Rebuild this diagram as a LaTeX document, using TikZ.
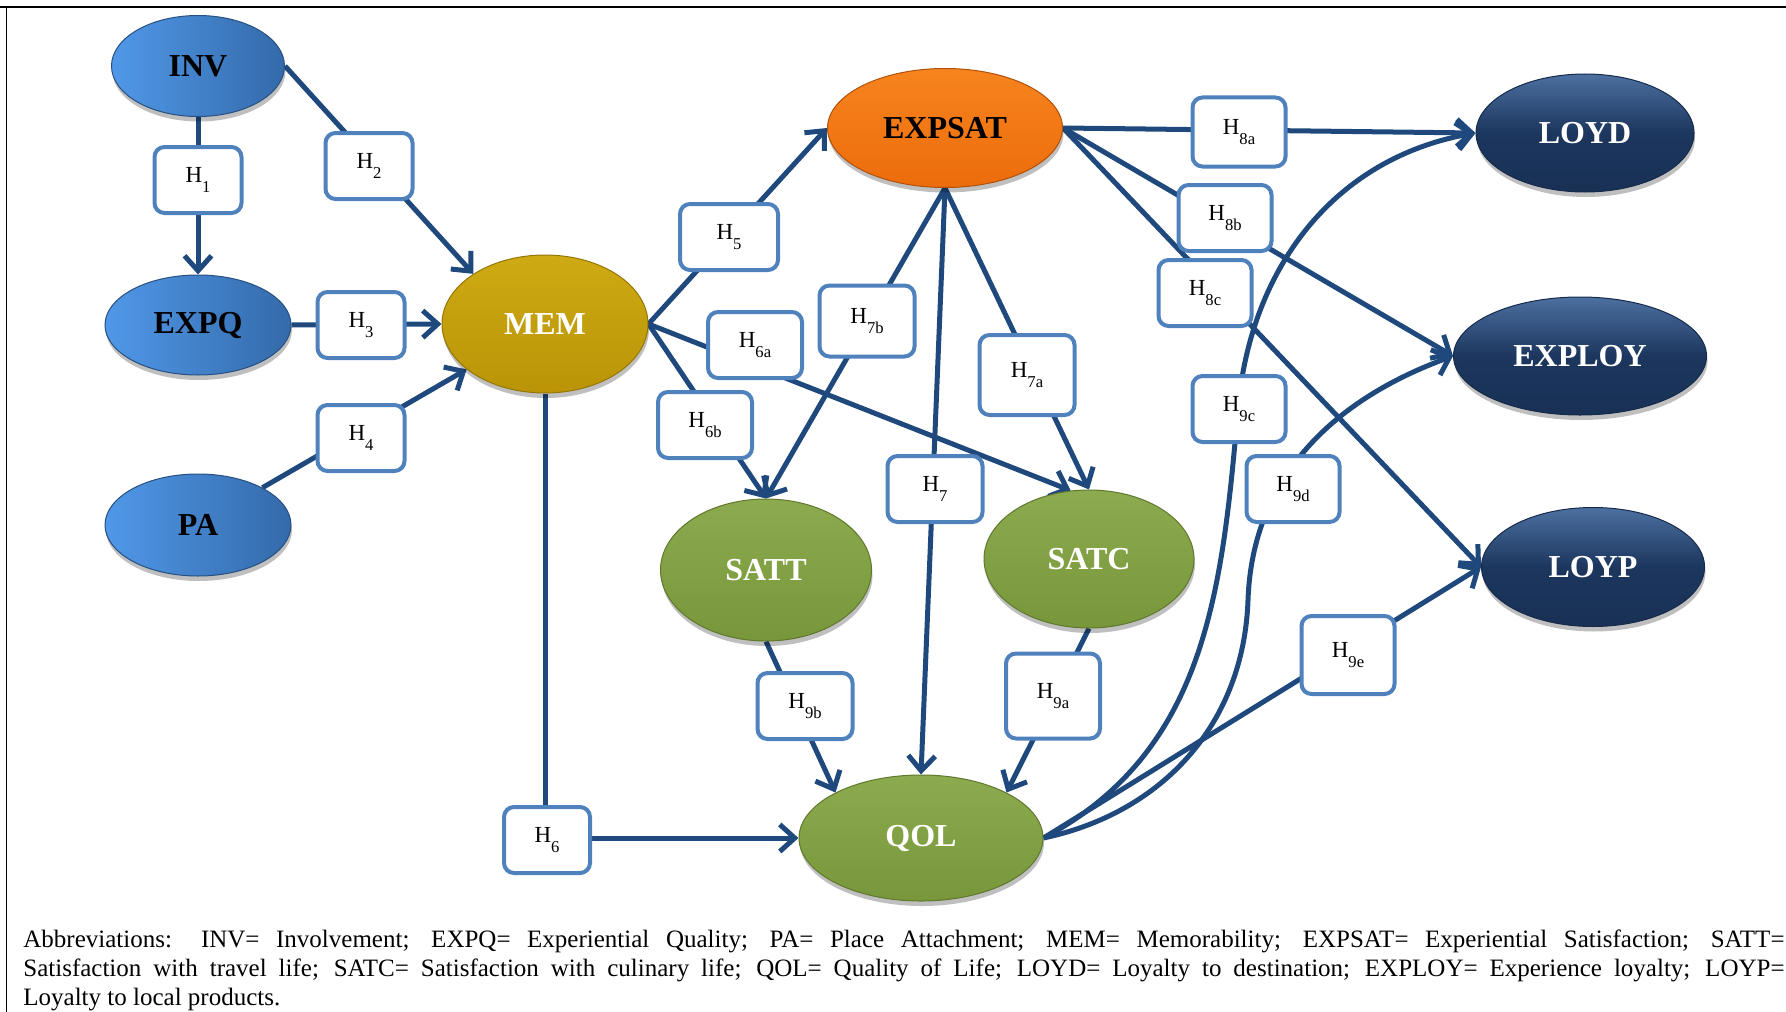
\documentclass[tikz,border=0pt]{standalone}
\usepackage{fontspec}
\setmainfont{Liberation Serif}
\usetikzlibrary{shapes.geometric,arrows.meta,shadows}
\pgfdeclarelayer{bg}
\pgfsetlayers{bg,main}

\definecolor{linkblue}{RGB}{31,73,125}
\definecolor{boxblue}{RGB}{79,129,189}
\definecolor{bluelight}{RGB}{80,152,232}
\definecolor{bluedark}{RGB}{52,106,170}
\definecolor{orangeA}{RGB}{247,132,30}
\definecolor{orangeB}{RGB}{236,108,12}
\definecolor{goldA}{RGB}{206,170,20}
\definecolor{goldB}{RGB}{186,148,6}
\definecolor{greenA}{RGB}{140,170,78}
\definecolor{greenB}{RGB}{120,150,58}
\definecolor{navyA}{RGB}{76,112,160}
\definecolor{navyB}{RGB}{28,54,94}

% hypothesis label: H with a lowered index
\newcommand\hyplabel[1]{H\lower5pt\hbox{\fontsize{8.3}{9}\selectfont #1}}

\tikzset{
  construct/.style={ellipse, inner sep=0pt, line width=0.5pt,
    font=\fontsize{16}{18}\selectfont\bfseries,
    drop shadow={shadow xshift=0.5pt, shadow yshift=-2.5pt, opacity=0.25, fill=black}},
  antecedent/.style={construct, left color=bluelight, right color=bluedark, draw=bluedark!75!black, text=black},
  memc/.style={construct, top color=goldA, bottom color=goldB, draw=goldB!80!black, text=white},
  satc/.style={construct, top color=orangeA, bottom color=orangeB, draw=orangeB!75!black, text=black},
  outc/.style={construct, top color=greenA, bottom color=greenB, draw=greenB!80!black, text=white},
  loyc/.style={construct, top color=navyA, bottom color=navyB!90!black, middle color=navyB, draw=navyB!80!black, text=white},
  hyp/.style={draw=boxblue, line width=2pt, fill=white, rounded corners=5pt, inner sep=0pt,
    font=\fontsize{11.5}{12}\selectfont, minimum width=46.5pt, minimum height=33pt},
  link/.style={draw=linkblue, line width=2.5pt},
  arr/.style={link, -{Straight Barb[length=7.5pt,width=13.5pt]}},
  caption/.style={anchor=base west, inner sep=0pt, text width=880.5pt, align=justify,
    font=\fontsize{12.5}{14.5}\selectfont},
}

\begin{document}
\begin{tikzpicture}[x=0.5pt,y=0.5pt]
\useasboundingbox (0,0) rectangle (1786,-1011);
\clip (0,0) rectangle (1786,-1011);

% frame
\draw[line width=1pt] (0,-7) -- (1800,-7);
\draw[line width=0.65pt] (6.5,-7) -- (6.5,-1030);

% constructs
\node[antecedent, minimum width=86.5pt, minimum height=50.5pt] (INV)  at (198,-66)  {INV};
\node[antecedent, minimum width=93pt,   minimum height=50pt]   (EXPQ) at (198,-325) {EXPQ};
\node[antecedent, minimum width=93pt,   minimum height=51pt]   (PA)   at (198,-525) {PA};
\node[memc, minimum width=103pt, minimum height=69pt]  (MEM)    at (545,-324) {MEM};
\node[satc, minimum width=117.5pt, minimum height=59.5pt] (EXPSAT) at (945,-128) {EXPSAT};
\node[outc, minimum width=105.5pt, minimum height=71pt] (SATT)  at (766,-570) {SATT};
\node[outc, minimum width=105pt, minimum height=69pt]   (SATC)  at (1089,-559) {SATC};
\node[outc, minimum width=122pt, minimum height=63pt]   (QOL)   at (921,-838) {QOL};
\node[loyc, minimum width=109pt, minimum height=59pt]   (LOYD)  at (1585,-133) {LOYD};
\node[loyc, minimum width=126.5pt, minimum height=59pt] (EXPLOY) at (1580,-356) {EXPLOY};
\node[loyc, minimum width=111.5pt, minimum height=59.5pt] (LOYP) at (1593,-567) {LOYP};

% hypothesis boxes
\node[hyp, minimum width=43.5pt] (H1)  at (198,-180)  {\hyplabel{1}};
\node[hyp, minimum width=43.5pt] (H2)  at (369,-166)  {\hyplabel{2}};
\node[hyp, minimum width=43.5pt] (H3)  at (361,-325)  {\hyplabel{3}};
\node[hyp, minimum width=43.5pt] (H4)  at (361,-438)  {\hyplabel{4}};
\node[hyp, minimum width=49pt]   (H5)  at (729,-237)  {\hyplabel{5}};
\node[hyp, minimum width=43pt]   (H6)  at (547,-840)  {\hyplabel{6}};
\node[hyp, minimum width=47pt]   (H6a) at (755,-345)  {\hyplabel{6a}};
\node[hyp, minimum width=47pt]   (H6b) at (705,-425)  {\hyplabel{6b}};
\node[hyp, minimum width=47.5pt] (H7)  at (935,-489)  {\hyplabel{7}};
\node[hyp, minimum width=47.5pt, minimum height=40pt] (H7a) at (1027,-375) {\hyplabel{7a}};
\node[hyp, minimum width=47.5pt, minimum height=35.5pt] (H7b) at (867,-321) {\hyplabel{7b}};
\node[hyp, minimum height=34.5pt] (H8a) at (1239,-132) {\hyplabel{8a}};
\node[hyp] (H8b) at (1225,-218) {\hyplabel{8b}};
\node[hyp] (H8c) at (1205,-293) {\hyplabel{8c}};
\node[hyp, minimum width=47pt, minimum height=42.5pt] (H9a) at (1053,-696) {\hyplabel{9a}};
\node[hyp, minimum width=47.5pt] (H9b) at (805,-706) {\hyplabel{9b}};
\node[hyp] (H9c) at (1239,-409) {\hyplabel{9c}};
\node[hyp] (H9d) at (1293,-489) {\hyplabel{9d}};
\node[hyp, minimum height=39pt] (H9e) at (1348,-655) {\hyplabel{9e}};

% waypoints of the two curved paths
\coordinate (c9c) at (1238,-409);
\coordinate (c9d) at (1248,-600);

\begin{pgfonlayer}{bg}
  \draw[arr] (INV) -- (EXPQ);
  \draw[arr] (INV.east) -- (MEM.145);
  \draw[arr] (EXPQ.east) -- (MEM.west);
  \draw[arr] (PA) -- (MEM);
  \draw[arr] (MEM.east) -- (EXPSAT.west);
  \draw[arr] (MEM.east) -- (SATC.105);
  \draw[arr] (MEM.east) -- (SATT.north);
  \draw[arr] (MEM.south) |- (QOL.west);
  \draw[arr] (EXPSAT.south) -- (SATT.north);
  \draw[arr] (EXPSAT.south) -- (QOL.north);
  \draw[arr] (EXPSAT.south) -- (SATC.north);
  \draw[arr] (SATT.south) -- (QOL.152);
  \draw[arr] (SATC.south) -- (QOL.28);
  \draw[arr] (EXPSAT.east) -- (LOYD.west);
  \draw[arr] (EXPSAT.east) -- (EXPLOY.west);
  \draw[arr] (EXPSAT.east) -- (LOYP.west);
  \draw[arr] (QOL.east) -- (LOYP.west);
  \draw[arr] (QOL.east) to[out=28,in=-95] (c9c) to[out=85,in=190] (LOYD.west);
  \draw[arr] (QOL.east) to[out=12,in=-92] (c9d) to[out=88,in=200] (EXPLOY.west);
\end{pgfonlayer}

% abbreviations
\node[caption] (cap) at (23,-947) {Abbreviations: INV= Involvement; EXPQ= Experiential Quality; PA= Place Attachment; MEM= Memorability; EXPSAT= Experiential Satisfaction; SATT=\linebreak Satisfaction with travel life; SATC= Satisfaction with culinary life; QOL= Quality of Life; LOYD= Loyalty to destination; EXPLOY= Experience loyalty; LOYP=\linebreak Loyalty to local products.};
\end{tikzpicture}
\end{document}
